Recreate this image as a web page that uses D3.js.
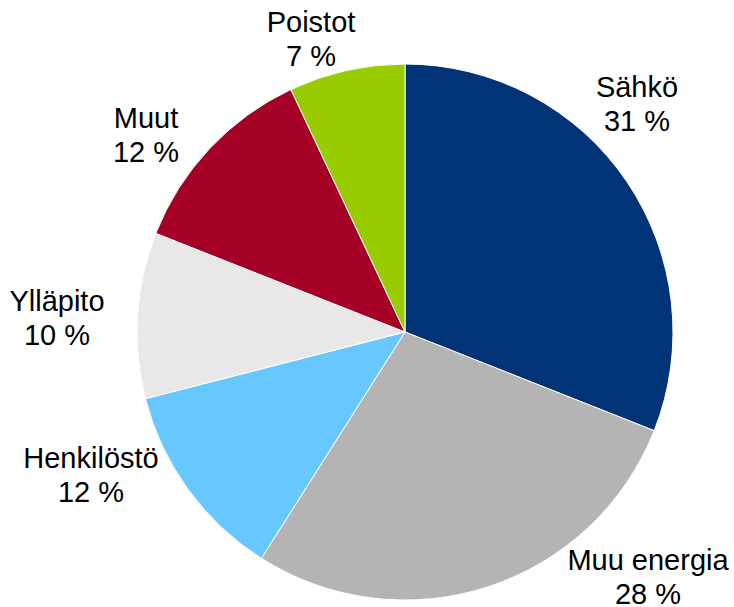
<!DOCTYPE html>
<html>
<head>
<meta charset="utf-8">
<script src="https://cdn.jsdelivr.net/npm/d3@7"></script>
<style>
  body { margin: 0; background: #fff; }
  text { font-family: "Liberation Sans", Arial, sans-serif; fill: #000; }
</style>
</head>
<body>
<div id="chart"></div>
<script>
// data
const categories = ["Sähkö", "Muu energia", "Henkilöstö", "Ylläpito", "Muut", "Poistot"];
const values = [31, 28, 12, 10, 12, 7];
const colors = ["#003476", "#b4b4b4", "#66c8ff", "#e8e8e8", "#a50026", "#99cc00"];

// layout
const width = 734, height = 607;
const cx = 405, cy = 332, radius = 268;
// label positions (Excel "best fit" placement), first-line baseline relative to pie centre
const labelOffsets = [
  [232, -235], [243, 238], [-314, 136], [-348, -21], [-259, -204], [-94, -300]
];

const svg = d3.select("#chart").append("svg")
  .attr("width", width).attr("height", height);

const g = svg.append("g").attr("transform", `translate(${cx},${cy})`);

const pie = d3.pie().sort(null).value((d) => d)(values);
const arc = d3.arc().innerRadius(0).outerRadius(radius);

g.selectAll("path.slice")
  .data(pie)
  .join("path")
  .attr("class", "slice")
  .attr("d", arc)
  .attr("fill", (d, i) => colors[i])
  .attr("stroke", "#fff")
  .attr("stroke-width", 1);

const labels = g.selectAll("text.label")
  .data(pie)
  .join("text")
  .attr("class", "label")
  .attr("text-anchor", "middle")
  .attr("font-size", 29)
  .attr("transform", (d, i) => `translate(${labelOffsets[i][0]},${labelOffsets[i][1]})`);

labels.append("tspan").attr("x", 0).attr("y", 0).text((d, i) => categories[i]);
labels.append("tspan").attr("x", 0).attr("y", 34).text((d) => `${d.data} %`);
</script>
</body>
</html>
